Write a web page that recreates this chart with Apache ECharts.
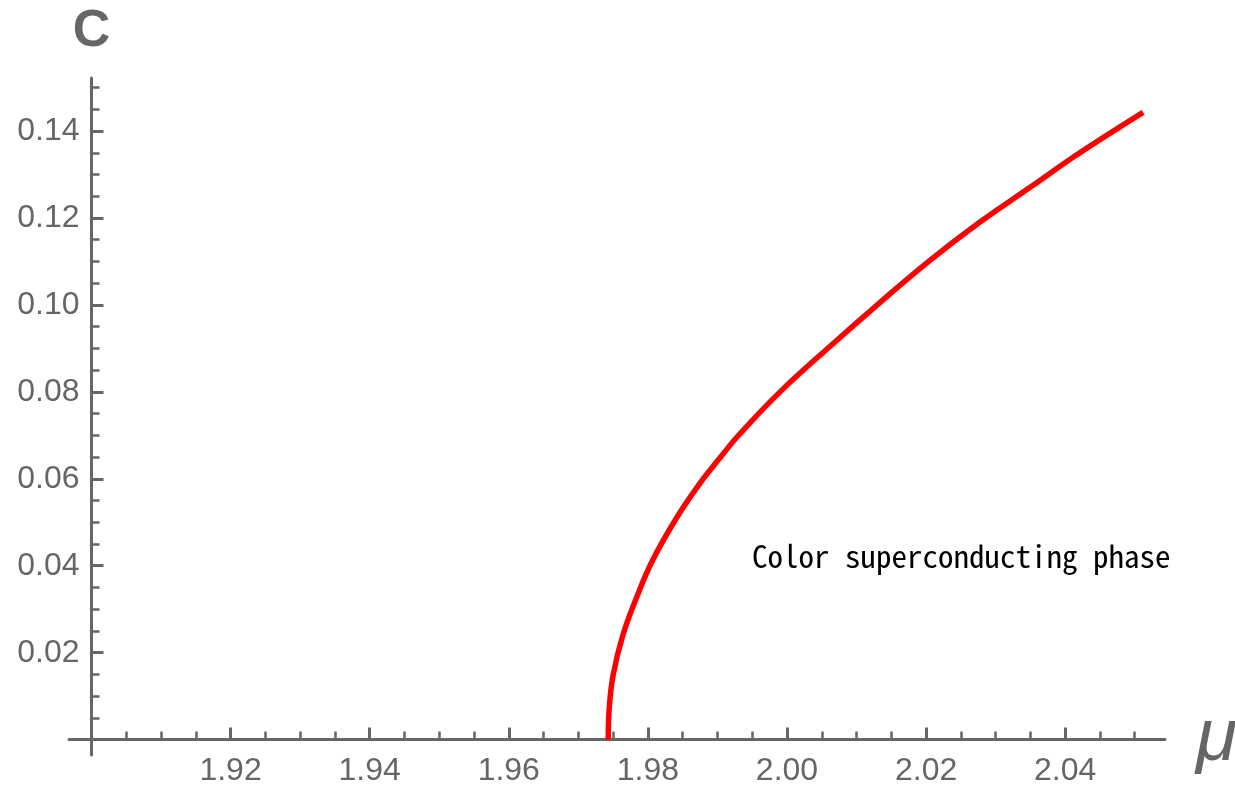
<!DOCTYPE html>
<html>
<head>
<meta charset="utf-8">
<title>C vs mu</title>
<script src="https://cdn.jsdelivr.net/npm/echarts@6.0.0/dist/echarts.min.js"></script>
<style>
  html, body { margin: 0; padding: 0; background: #fff; }
  #chart { width: 1235px; height: 791px; }
</style>
</head>
<body>
<div id="chart"></div>
<script>
// curve (mu, C)
const muValues = [1.9743, 1.97445, 1.9750, 1.9764, 1.9784, 1.9807, 1.9842, 1.9875, 1.9904, 1.9932,
  1.9990, 2.0062, 2.0134, 2.0206, 2.0277, 2.0349, 2.0421, 2.0512]
const cValues = [0.0000, 0.0074, 0.0148, 0.0240, 0.0328, 0.0413, 0.0512, 0.0590, 0.0649, 0.0703,
  0.0800, 0.0905, 0.1006, 0.1103, 0.1190, 0.1270, 0.1350, 0.1443]

// tick values
const xMajorTicks = [1.92, 1.94, 1.96, 1.98, 2.00, 2.02, 2.04]
const xMinorTicks = [1.905, 1.91, 1.915, 1.925, 1.93, 1.935, 1.945, 1.95, 1.955, 1.965, 1.97, 1.975,
  1.985, 1.99, 1.995, 2.005, 2.01, 2.015, 2.025, 2.03, 2.035, 2.045, 2.05]
const yMajorTicks = [0.02, 0.04, 0.06, 0.08, 0.10, 0.12, 0.14]
const yMinorTicks = [0.005, 0.01, 0.015, 0.025, 0.03, 0.035, 0.045, 0.05, 0.055, 0.065, 0.07, 0.075,
  0.085, 0.09, 0.095, 0.105, 0.11, 0.115, 0.125, 0.13, 0.135, 0.145, 0.15]

// axis ranges (axes run a bit past the origin, like the original)
const X_MIN = 1.89677
const X_MAX = 2.05435
const Y_MIN = -0.00354
const Y_MAX = 0.1522

const gray = '#666'
const labelFont = 'Liberation Sans, Arial, sans-serif'

const xBase = {
  type: 'value',
  min: X_MIN,
  max: X_MAX,
  position: 'bottom',
  splitLine: { show: false }
}
const yBase = {
  type: 'value',
  min: Y_MIN,
  max: Y_MAX,
  position: 'left',
  offset: -22.5,
  splitLine: { show: false }
}

const option = {
  animation: false,
  backgroundColor: '#fff',
  grid: { left: 69, right: 70, top: 78, bottom: 36, containLabel: false, outerBoundsMode: 'none' },
  xAxis: [
    {
      ...xBase,
      name: 'μ',
      nameLocation: 'end',
      nameGap: 31,
      nameTextStyle: { color: gray, fontSize: 75, fontStyle: 'italic', fontFamily: labelFont, verticalAlign: 'middle' },
      axisLine: { onZero: true, onZeroAxisIndex: 0, lineStyle: { color: gray, width: 3 } },
      axisTick: { inside: true, length: 12, customValues: xMajorTicks, lineStyle: { color: gray, width: 3 } },
      axisLabel: {
        customValues: xMajorTicks,
        formatter: (v) => v.toFixed(2),
        color: gray, fontSize: 32, fontFamily: labelFont, margin: 0
      }
    },
    {
      ...xBase,
      axisLine: { show: false, onZero: true, onZeroAxisIndex: 0 },
      axisTick: { inside: true, length: 8, customValues: xMinorTicks, lineStyle: { color: gray, width: 2.5 } },
      axisLabel: { show: false }
    }
  ],
  yAxis: [
    {
      ...yBase,
      name: 'C',
      nameLocation: 'end',
      nameGap: 20,
      nameTextStyle: { color: gray, fontSize: 52, fontWeight: 'bold', fontFamily: labelFont },
      axisLine: { show: true, onZero: false, lineStyle: { color: gray, width: 3 } },
      axisTick: { show: true, inside: true, length: 12, customValues: yMajorTicks, lineStyle: { color: gray, width: 3 } },
      axisLabel: {
        customValues: yMajorTicks,
        formatter: (v) => v.toFixed(2),
        color: gray, fontSize: 32, fontFamily: labelFont, margin: 12
      }
    },
    {
      ...yBase,
      axisLine: { show: false, onZero: false },
      axisTick: { show: true, inside: true, length: 8, customValues: yMinorTicks, lineStyle: { color: gray, width: 2.5 } },
      axisLabel: { show: false }
    }
  ],
  graphic: [
    {
      type: 'text',
      left: 752,
      top: 541,
      style: {
        text: 'Color superconducting phase',
        fill: '#000',
        fontSize: 31,
        fontFamily: '"Noto Sans Mono CJK JP", "Noto Sans CJK JP", "DejaVu Sans Mono", monospace'
      }
    }
  ],
  series: [
    {
      type: 'line',
      xAxisIndex: 0,
      yAxisIndex: 0,
      data: muValues.map((m, i) => [m, cValues[i]]),
      showSymbol: false,
      smooth: 0.4,
      lineStyle: { color: '#ff0000', width: 5.5 }
    }
  ]
}

const myChart = echarts.init(document.getElementById('chart'))
myChart.setOption(option)
</script>
</body>
</html>
